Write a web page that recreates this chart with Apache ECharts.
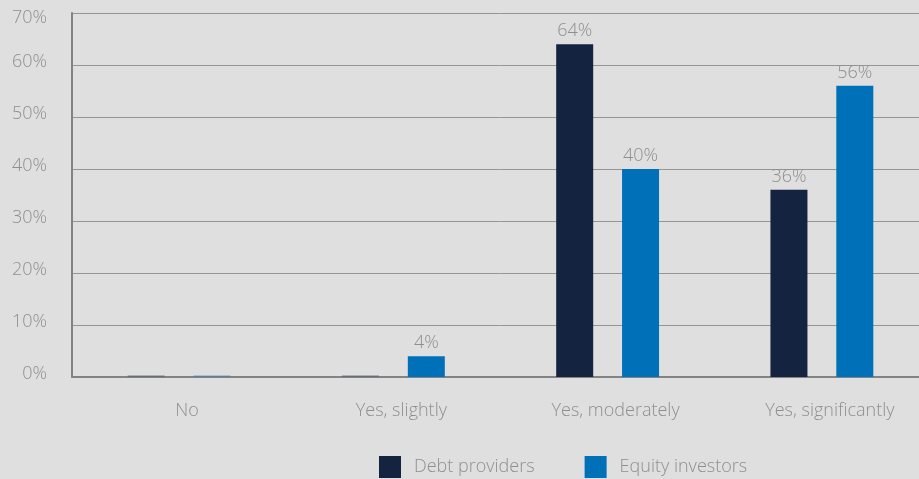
<!DOCTYPE html>
<html><head><meta charset="utf-8">
<script src="https://cdn.jsdelivr.net/npm/echarts@6/dist/echarts.min.js"></script>
<style>html,body{margin:0;padding:0;background:#dfdfdf;overflow:hidden}#c{width:929px;height:479px}</style>
</head><body><div id="c"></div>
<script>
var categories = ['No', 'Yes, slightly', 'Yes, moderately', 'Yes, significantly'];
var debtProviders = [0, 0, 64, 36];
var equityInvestors = [0, 4, 40, 56];
var yTicks = [0, 10, 20, 30, 40, 50, 60, 70];

function toData(arr) {
  return arr.map(function (v) {
    return v === 0 ? { value: v, itemStyle: { opacity: 0.25 } } : v;
  });
}
var font = '"Open Sans", sans-serif';
var txt = '#8f8f8f';
var chart = echarts.init(document.getElementById('c'), null, { renderer: 'canvas' });
chart.setOption({
  backgroundColor: '#dfdfdf',
  animation: false,
  textStyle: { fontFamily: font },
  grid: { left: 72, right: 0, top: 13, bottom: 102, containLabel: false },
  legend: {
    bottom: 1, left: 379, padding: 0, itemWidth: 22, itemHeight: 22, itemGap: 50,
    icon: 'rect',
    textStyle: { color: txt, fontSize: 18, fontWeight: 300, fontFamily: font, padding: [0, 0, 0, 8] },
    data: ['Debt providers', 'Equity investors']
  },
  xAxis: {
    type: 'category', data: categories,
    axisLine: { lineStyle: { color: '#838383', width: 2 } },
    axisTick: { show: false },
    axisLabel: { color: txt, fontSize: 18, fontWeight: 300, margin: 25, padding: [0, 0, 0, 16], fontFamily: font }
  },
  yAxis: {
    type: 'value', min: 0, max: 70, interval: 10,
    axisLine: { show: true, lineStyle: { color: '#838383', width: 2 } },
    splitLine: { lineStyle: { color: '#959595', width: 1 } },
    axisLabel: { color: txt, fontSize: 18, fontWeight: 300, margin: 25, fontFamily: font,
      formatter: function (v) {
        if (yTicks.indexOf(v) < 0) return '';
        return (v === 70 ? '{b|' : '{a|') + v + '%}';
      },
      rich: {
        a: { color: txt, fontSize: 18, fontWeight: 300, fontFamily: font, padding: [0, 0, 6, 0] },
        b: { color: txt, fontSize: 18, fontWeight: 300, fontFamily: font, padding: [10, 0, 0, 0] }
      } }
  },
  series: [
    { name: 'Debt providers', type: 'bar', data: toData(debtProviders), barWidth: 37, barGap: '78%',
      barMinHeight: 2,
      itemStyle: { color: '#14233f' },
      label: { show: true, position: 'top', distance: 4, color: txt, fontSize: 18, fontWeight: 300, fontFamily: font,
        formatter: function (p) { return p.value === 0 ? '' : p.value + '%'; } } },
    { name: 'Equity investors', type: 'bar', data: toData(equityInvestors), barWidth: 37, barGap: '78%',
      barMinHeight: 2,
      itemStyle: { color: '#0070b8' },
      label: { show: true, position: 'top', distance: 4, color: txt, fontSize: 18, fontWeight: 300, fontFamily: font,
        formatter: function (p) { return p.value === 0 ? '' : p.value + '%'; } } }
  ]
});
</script></body></html>
